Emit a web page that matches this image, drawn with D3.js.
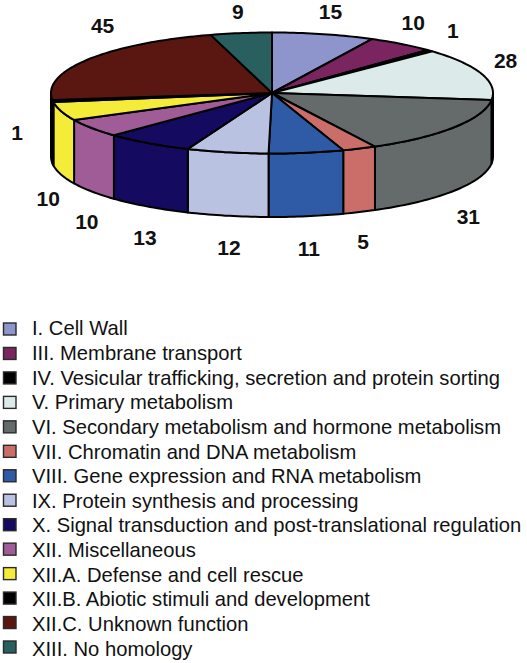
<!DOCTYPE html>
<html>
<head>
<meta charset="utf-8">
<script src="https://cdn.jsdelivr.net/npm/d3@7"></script>
<style>
  body { margin: 0; background: #fff; }
  text { font-family: "Liberation Sans", Arial, sans-serif; fill: #111; }
  .value { font-size: 21px; font-weight: bold; text-anchor: middle; }
  .legend-label { font-size: 20.2px; }
</style>
</head>
<body>
<div id="chart"></div>
<script>
var categories = [
  'I. Cell Wall',
  'III. Membrane transport',
  'IV. Vesicular trafficking, secretion and protein sorting',
  'V. Primary metabolism',
  'VI. Secondary metabolism and hormone metabolism',
  'VII. Chromatin and DNA metabolism',
  'VIII. Gene expression and RNA metabolism',
  'IX. Protein synthesis and processing',
  'X. Signal transduction and post-translational regulation',
  'XII. Miscellaneous',
  'XII.A. Defense and cell rescue',
  'XII.B. Abiotic stimuli and development',
  'XII.C. Unknown function',
  'XIII. No homology'
];
var values = [15, 10, 1, 28, 31, 5, 11, 12, 13, 10, 10, 1, 45, 9];
var colors = ['#8e95cc', '#7b2560', '#000000', '#dcebea', '#656b6b', '#cb6e6a', '#2f5aa5',
  '#b9c2e0', '#140a60', '#9f5c96', '#f4ec38', '#000000', '#5a1712', '#2a5f5f'];

// label nudges from the default spot around the pie, by slice
var labelNudge = [[2, -1.5], [-1, -4], [7, -4.5], [3, -7], [-4, 13.5], [-5, 9], [-1, 10.5], [6, 10],
  [9, 13], [13, 17], [8, 17.5], [-14, -34.5], [33, -21.5], [0, 0]];

var width = 527;
var height = 663;
var cx = 272;
var cy = 93;
var rx = 221;
var ry = 60.5;
var depth = 63.5;

var color = d3.scaleOrdinal().domain(categories).range(colors);

var svg = d3.select('#chart').append('svg')
  .attr('width', width)
  .attr('height', height)
  .style('display', 'block');

var pie = d3.pie().sort(null).value(function(d, i) { return values[i]; });
var slices = pie(categories);

// pie angle (clockwise from 12 o'clock) to the tilted ellipse
var px = function(a) { return cx + rx * Math.sin(a); };
var py = function(a) { return cy - ry * Math.cos(a); };

var sample = function(a0, a1) {
  var n = Math.max(2, Math.ceil((a1 - a0) / 0.02));
  return d3.range(n + 1).map(function(i) { return a0 + (a1 - a0) * i / n; });
};

var line = d3.line()
  .x(function(a) { return px(a); })
  .y(function(a) { return py(a); });

var side = d3.area()
  .x(function(a) { return px(a); })
  .y0(function(a) { return py(a); })
  .y1(function(a) { return py(a) + depth; });

// only the front half of the wall is visible
var front = slices.filter(function(s) {
  return s.endAngle > Math.PI / 2 && s.startAngle < Math.PI * 3 / 2;
});

svg.append('g').selectAll('path').data(front).enter()
  .append('path')
  .attr('d', function(s) {
    var a0 = Math.max(s.startAngle, Math.PI / 2);
    var a1 = Math.min(s.endAngle, Math.PI * 3 / 2);
    return side(sample(a0, a1));
  })
  .attr('fill', function(s) { return color(s.data); })
  .attr('stroke', '#000')
  .attr('stroke-width', 2)
  .attr('stroke-linejoin', 'round');

svg.append('g').selectAll('path').data(slices).enter()
  .append('path')
  .attr('d', function(s) {
    return 'M' + cx + ',' + cy + 'L' + line(sample(s.startAngle, s.endAngle)).slice(1) + 'Z';
  })
  .attr('fill', function(s) { return color(s.data); })
  .attr('stroke', '#000')
  .attr('stroke-width', 2)
  .attr('stroke-linejoin', 'round');

svg.append('g').selectAll('text').data(slices).enter()
  .append('text')
  .attr('class', 'value')
  .attr('x', function(s, i) {
    var a = (s.startAngle + s.endAngle) / 2;
    return cx + (rx + 22) * Math.sin(a) + labelNudge[i][0];
  })
  .attr('y', function(s, i) {
    var a = (s.startAngle + s.endAngle) / 2;
    var drop = Math.cos(a) < 0 ? depth : 0;
    return cy - (ry + 22) * Math.cos(a) + drop + labelNudge[i][1] + 7.5;
  })
  .text(function(s) { return s.value; });

// legend: the swatches run on a slightly tighter spacing than the text
var legendY = d3.scalePoint().domain(categories).range([335.3, 655.7]);
var swatchY = d3.scalePoint().domain(categories).range([329, 647]);

svg.append('g').selectAll('rect').data(categories).enter()
  .append('rect')
  .attr('x', 3.5)
  .attr('y', function(d) { return swatchY(d) - 6; })
  .attr('width', 12.5)
  .attr('height', 12)
  .attr('fill', function(d) { return color(d); })
  .attr('stroke', '#2a2a2a')
  .attr('stroke-width', 1.4);

svg.append('g').selectAll('text').data(categories).enter()
  .append('text')
  .attr('class', 'legend-label')
  .attr('x', 32)
  .attr('y', function(d) { return legendY(d); })
  .text(function(d) { return d; });
</script>
</body>
</html>
